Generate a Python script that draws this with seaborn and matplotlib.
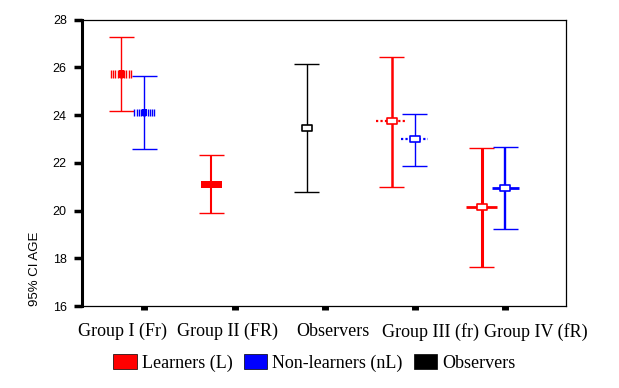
import numpy as np
import pandas as pd
import seaborn as sns
import matplotlib.pyplot as plt
from matplotlib.patches import Patch, Rectangle
from matplotlib.path import Path
from matplotlib.transforms import ScaledTranslation

groups = ["Group I (Fr)", "Group II (FR)", "Observers", "Group III (fr)", "Group IV (fR)"]

row_group = ["Group I (Fr)", "Group I (Fr)", "Group II (FR)", "Observers",
             "Group III (fr)", "Group III (fr)", "Group IV (fR)", "Group IV (fR)"]
row_series = ["Learners (L)", "Non-learners (nL)", "Learners (L)", "Observers",
              "Learners (L)", "Non-learners (nL)", "Learners (L)", "Non-learners (nL)"]
mean_age = [25.72, 24.10, 21.08, 23.47, 23.75, 22.98, 20.13, 20.96]
ci_low = [24.18, 22.56, 19.88, 20.79, 21.00, 21.88, 17.62, 19.24]
ci_high = [27.25, 25.65, 22.34, 26.15, 26.44, 24.05, 22.63, 22.67]

series_names = ["Learners (L)", "Non-learners (nL)", "Observers"]

df = pd.DataFrame({"group": row_group, "series": row_series,
                   "mean": mean_age, "low": ci_low, "high": ci_high})

colors = {"Learners (L)": "#ff0000", "Non-learners (nL)": "#0000ff", "Observers": "#000000"}
offset = {"Learners (L)": -0.26, "Non-learners (nL)": 0.0, "Observers": -0.2}
# marker look per group, line width of the CI bar per row
mark = {"Group I (Fr)": "stripes", "Group II (FR)": "block", "Observers": "box",
        "Group III (fr)": "dotted", "Group IV (fR)": "bar"}
bar_lw = [1.0, 1.0, 1.5, 1.0, 1.8, 1.0, 2.2, 1.7]
label_shift_px = [-21.5, -7, 8.5, 16, 31]

sns.set_theme(style="white")
plt.rcParams["font.family"] = ["Liberation Serif", "DejaVu Serif"]
plt.rcParams["text.color"] = "black"

fig = plt.figure(figsize=(6.19, 3.88), dpi=100)
ax = fig.add_axes([0.1325, 0.2113, 0.7815, 0.7384])

df["x"] = [groups.index(g) + offset[s] for g, s in zip(df["group"], df["series"])]

ypu = 0.0418  # data units per pixel, y
xpu = 1 / 90.2  # data units per pixel, x

rect = Path([(-1.5, -1), (1.5, -1), (1.5, 1), (-1.5, 1), (-1.5, -1)],
            [Path.MOVETO, Path.LINETO, Path.LINETO, Path.LINETO, Path.CLOSEPOLY])

for i, r in df.iterrows():
    c = colors[r["series"]]
    x, m = r["x"], r["mean"]
    ax.vlines(x, r["low"], r["high"], color=c, lw=bar_lw[i], zorder=2)
    cw = 12.5 * xpu
    ax.hlines([r["low"], r["high"]], x - cw, x + cw, color=c, lw=1.0, zorder=2)
    kind = mark[r["group"]]
    if kind == "stripes":
        xs = x + np.arange(-10, 11, 2.2) * xpu
        ax.vlines(xs, m - 3.8 * ypu, m + 3.8 * ypu, color=c, lw=1.0, zorder=3)
        ax.add_patch(Rectangle((x - 2.5 * xpu, m - 3.8 * ypu), 5 * xpu, 7.6 * ypu,
                               color=c, lw=0, zorder=3))
    elif kind == "block":
        ax.add_patch(Rectangle((x - 10.5 * xpu, m - 3.5 * ypu), 21 * xpu, 7 * ypu,
                               color=c, lw=0, zorder=3))
    else:
        if kind == "dotted":
            hw = 16 if r["series"] == "Learners (L)" else 13.5
            ax.hlines(m, x - hw * xpu, x + hw * xpu, color=c, lw=1.6,
                      linestyles=(0, (1, 1)), zorder=3)
        elif kind == "bar":
            hw = 15.5 if r["series"] == "Learners (L)" else 13.5
            ax.hlines(m, x - hw * xpu, x + hw * xpu, color=c, lw=2.0, zorder=3)
        sns.scatterplot(x=[x], y=[m], marker=rect, s=48, facecolor="white",
                        edgecolor=c, linewidth=1.2, ax=ax, zorder=4, legend=False)

ax.set_xlim(-0.693, 4.673)
ax.set_ylim(16, 28)
ax.set_yticks(np.arange(16, 29, 2))
ax.set_xticks(range(len(groups)))
ax.set_xticklabels([])
# category names sit a little off their tick marks, as in the original
for i, (name, dx) in enumerate(zip(groups, label_shift_px)):
    tr = ax.get_xaxis_transform() + ScaledTranslation(dx / 100, 0, fig.dpi_scale_trans)
    ax.text(i, -0.09, name, transform=tr, ha="center", va="center",
            fontsize=13, color="black", clip_on=False)
ax.set_xlabel("")
ax.set_ylabel("")
for lab in ax.get_yticklabels():
    lab.set_family(["Liberation Sans", "DejaVu Sans"])
    lab.set_fontsize(9)
ax.tick_params(axis="y", left=True, direction="out", length=6, width=2.5, pad=5,
               colors="black")
ax.tick_params(axis="x", bottom=True, direction="out", length=3, width=5,
               colors="black")
for side in ["top", "right", "bottom"]:
    ax.spines[side].set_linewidth(0.9)
    ax.spines[side].set_color("black")
ax.spines["left"].set_linewidth(2.2)
ax.spines["left"].set_color("black")

fig.text(0.056, 0.212, "95% CI AGE", rotation=90, ha="center", va="bottom",
         fontsize=9.5, color="black", family=["Liberation Sans", "DejaVu Sans"])

handles = [Patch(facecolor=colors[s], edgecolor="black", lw=0.5) for s in series_names]
fig.legend(handles, series_names, loc="center", bbox_to_anchor=(0.508, 0.064), ncol=3,
           frameon=False, fontsize=13, handlelength=1.3, handleheight=0.9,
           handletextpad=0.3, columnspacing=0.6, labelcolor="black")

fig.savefig("out.png", dpi=100)
